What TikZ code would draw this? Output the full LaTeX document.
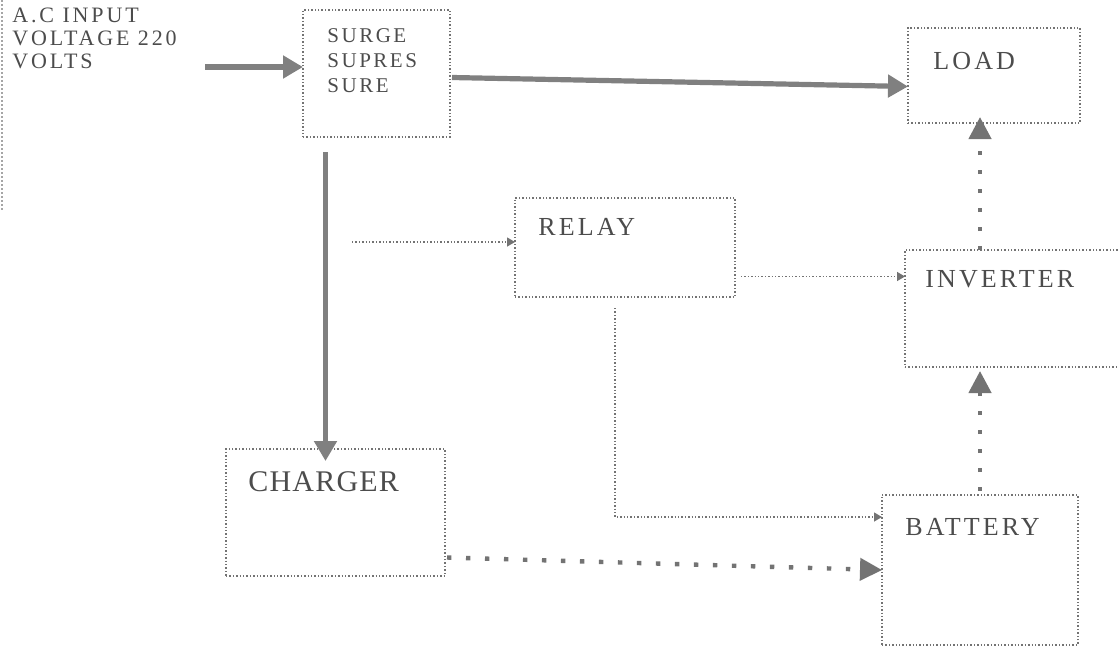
\documentclass[tikz,border=0pt]{standalone}
\usepackage{fontspec}
\setmainfont{Liberation Serif}
\newfontfamily\blkfont[LetterSpace=12]{Liberation Serif}
\newfontfamily\infont[LetterSpace=13]{Liberation Serif}
\newfontfamily\bigfont[LetterSpace=4]{Liberation Serif}
\usetikzlibrary{arrows.meta}
\colorlet{boxcol}{black!55}
\colorlet{textcol}{black!70}
\colorlet{thickcol}{black!50}
\colorlet{crosscol}{black!55}
\tikzset{
  blk/.style={draw=boxcol, densely dotted, line width=0.7pt, inner sep=0pt, outer sep=0pt, anchor=north west},
  blktext/.style={anchor=north west, inner sep=0pt, text=textcol, align=left},
  smalltext/.style={blktext, font=\blkfont\fontsize{10.5}{12.5}\selectfont},
  midtext/.style={blktext, font=\blkfont\fontsize{13}{15}\selectfont},
  thickarr/.style={draw=thickcol, line width=2.6pt, -{Triangle[length=10pt,width=11pt]}},
  thinarr/.style={draw=boxcol, densely dotted, line width=0.7pt, -{Triangle[length=4pt,width=4.5pt]}},
  crossarr/.style={draw=crosscol, line width=2.2pt, dash pattern=on 2.2pt off 7.3pt, -{Triangle[length=11pt,width=11pt]}}
}

\begin{document}
\begin{tikzpicture}[x=0.5pt, y=0.5pt]

  % Page frame.
  \path[use as bounding box] (0,0) rectangle (1118,-649);
  \clip (0,0) rectangle (1118,-649);

  % Left margin trace.
  \draw[black!35, densely dotted, line width=1pt] (2,0) -- (2,-210);

  % Blocks.
  \node[blk, minimum width=73.5pt, minimum height=63.5pt] (surge) at (303,-10) {};
  \node[blk, minimum width=86pt, minimum height=47.5pt] (load) at (908,-28) {};
  \node[blk, minimum width=110pt, minimum height=49.5pt] (relay) at (515,-198) {};
  \node[blk, minimum width=120pt, minimum height=58.5pt] (inverter) at (905,-250) {};
  \node[blk, minimum width=109.5pt, minimum height=63.5pt] (charger) at (226,-449) {};
  \node[blk, minimum width=98pt, minimum height=75pt] (battery) at (882,-495) {};

  % Block labels.
  \node[blktext, font=\infont\fontsize{11}{11.5}\selectfont] (acin) at (12,-8) {A.C INPUT\\VOLTAGE 220\\VOLTS};
  \node[smalltext] (surgetxt) at ([shift={(24,-18)}]surge.north west) {SURGE\\SUPRES\\SURE};
  \node[midtext] (loadtxt) at ([shift={(25,-24)}]load.north west) {LOAD};
  \node[midtext] (relaytxt) at ([shift={(23,-20)}]relay.north west) {RELAY};
  \node[midtext] (invtxt) at ([shift={(20,-20)}]inverter.north west) {INVERTER};
  \node[blktext, font=\bigfont\fontsize{15}{17}\selectfont] (chgtxt) at ([shift={(22,-22)}]charger.north west) {CHARGER};
  \node[midtext] (battxt) at ([shift={(23,-23)}]battery.north west) {BATTERY};

  % Mains path.
  \coordinate (acend) at (205,-67);
  \draw[thickarr] (acend) -- (surge.west |- acend);
  \draw[thickarr] ([shift={(2,-4)}]surge.east) -- ([shift={(0,-11)}]load.west);
  \coordinate (vtop) at ([shift={(-51,-15)}]surge.south);
  \draw[thickarr] (vtop) -- ([shift={(0,-12)}]vtop |- charger.north);

  % Relay lines.
  \coordinate (relin) at (352,-242);
  \draw[thinarr] (relin) -- (relay.west |- relin);
  \coordinate (relout) at ([shift={(6,-29)}]relay.east);
  \draw[thinarr] (relout) -- (inverter.west |- relout);
  \coordinate (reldown) at ([shift={(-10,-11)}]relay.south);
  \draw[thinarr] (reldown) |- ([shift={(0,53)}]battery.west);

  % DC paths.
  \draw[crossarr] ([shift={(2,-45)}]charger.east) -- (battery.west);
  \draw[crossarr] ([shift={(0,4)}]battery.north) -- ([shift={(0,-4)}]battery.north |- inverter.south);
  \draw[crossarr] (battery.north |- inverter.north) -- ([shift={(0,6)}]battery.north |- load.south);

\end{tikzpicture}
\end{document}
